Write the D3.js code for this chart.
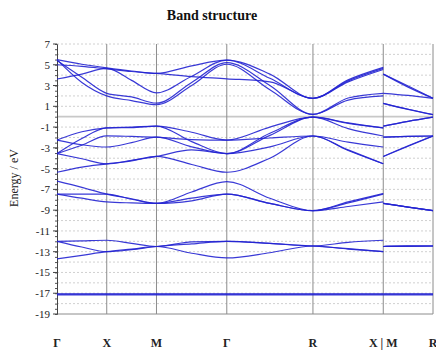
<!DOCTYPE html>
<html>
<head>
<meta charset="utf-8">
<script src="https://cdn.jsdelivr.net/npm/d3@7"></script>
<style>
  body { margin: 0; background: #fff; }
  svg { display: block; font-family: 'Liberation Serif', 'Times New Roman', serif; }
</style>
</head>
<body>
<div id="chart"></div>
<script>
// high symmetry points along the path
const kLabels = ['Γ', 'X', 'M', 'Γ', 'R', 'X | M', 'R'];
const kTicks = [0, 0.5, 1.0, 1.707, 2.573, 3.280, 3.780];

// sample positions: Γ-X-M-Γ-R-X, then M-R after the break
const kPath1 = [0, 0.25, 0.5, 0.75, 1.0, 1.354, 1.707, 2.140, 2.573, 2.927, 3.280];
const kPath2 = [3.280, 3.530, 3.780];

const yTicks = [7, 5, 3, 1, -1, -3, -5, -7, -9, -11, -13, -15, -17, -19];

// energies (eV) at [Γ, m, X, m, M, m, Γ, m, R, m, X | M, m, R]
const coreBands = [
  [-17.05, -17.05, -17.05, -17.05, -17.05, -17.05, -17.05, -17.05, -17.05, -17.05, -17.05, -17.05, -17.05, -17.05],
  [-17.1, -17.1, -17.1, -17.1, -17.1, -17.1, -17.1, -17.1, -17.1, -17.1, -17.1, -17.1, -17.1, -17.1],
  [-17.15, -17.15, -17.15, -17.15, -17.15, -17.15, -17.15, -17.15, -17.15, -17.15, -17.15, -17.15, -17.15, -17.15]
];

const semicoreBands = [
  [-12.0, -11.95, -11.9, -12.2, -12.5, -12.05, -12.0, -12.2, -12.45, -12.1, -11.9, -12.5, -12.47, -12.45],
  [-12.0, -12.55, -13.0, -12.8, -12.5, -12.25, -12.0, -12.2, -12.45, -12.7, -13.0, -12.5, -12.47, -12.45],
  [-13.7, -13.35, -13.0, -12.75, -12.5, -13.15, -13.6, -13.1, -12.45, -12.75, -13.0, -12.5, -12.47, -12.45]
];

const lowerBands = [
  [-6.2, -6.8, -7.45, -7.9, -8.35, -7.25, -6.25, -7.85, -9.05, -8.2, -7.4, -8.35, -8.7, -9.05],
  [-7.45, -7.45, -7.45, -7.95, -8.35, -7.85, -7.45, -8.35, -9.05, -8.3, -7.45, -8.35, -8.7, -9.05],
  [-7.45, -7.85, -8.2, -8.3, -8.35, -8.1, -7.45, -8.35, -9.05, -8.65, -8.2, -8.35, -8.7, -9.05]
];

const valenceBands = [
  [-2.25, -1.45, -1.08, -1.0, -0.9, -1.5, -2.25, -1.0, -0.05, -0.6, -1.08, -0.9, -0.45, -0.05],
  [-2.25, -2.7, -2.92, -2.5, -1.97, -2.9, -3.55, -1.8, -0.05, -1.15, -1.86, -1.97, -1.9, -1.86],
  [-3.55, -2.1, -1.08, -1.05, -0.9, -2.4, -3.55, -1.6, -0.05, -0.65, -1.08, -0.9, -0.45, -0.05],
  [-3.55, -2.75, -1.85, -1.9, -1.97, -2.2, -2.25, -2.05, -1.86, -2.45, -2.92, -1.97, -1.9, -1.86],
  [-3.55, -4.05, -4.55, -4.2, -3.83, -3.2, -3.55, -2.9, -1.86, -3.25, -4.53, -3.83, -2.8, -1.86],
  [-5.35, -4.85, -4.55, -4.25, -3.83, -4.6, -5.35, -4.0, -1.86, -3.2, -4.53, -3.83, -2.85, -1.86]
];

const conductionBands = [
  [5.50, 5.05, 4.70, 4.40, 4.17, 4.90, 5.45, 4.10, 1.77, 3.55, 4.75, 4.10, 2.95, 1.77],
  [3.63, 4.10, 4.65, 3.50, 2.30, 3.90, 5.45, 3.70, 1.77, 3.35, 4.55, 2.25, 2.05, 1.77],
  [5.50, 3.30, 2.00, 1.55, 1.15, 3.00, 5.05, 2.60, 0.22, 1.60, 2.00, 1.29, 0.70, 0.20],
  [5.40, 3.80, 2.25, 1.90, 1.30, 3.30, 5.20, 3.00, 0.22, 1.80, 2.25, 1.29, 0.72, 0.20],
  [5.00, 4.85, 4.60, 4.35, 4.17, 3.85, 3.65, 3.35, 1.77, 3.45, 4.65, 4.10, 2.85, 1.77]
];

const width = 436;
const height = 350;
const plot = { left: 57, right: 433, top: 44, bottom: 314 };

const svg = d3.select('#chart')
  .append('svg')
  .attr('width', width)
  .attr('height', height);

const x = d3.scaleLinear()
  .domain([0, 3.780])
  .range([plot.left, plot.right]);

const y = d3.scaleLinear()
  .domain([-19, 7])
  .range([plot.bottom, plot.top]);

// dashed grid every 1 eV, solid at the Fermi level
svg.append('g')
  .selectAll('line')
  .data(d3.range(-18, 8))
  .enter()
  .append('line')
  .attr('x1', plot.left)
  .attr('x2', plot.right)
  .attr('y1', d => y(d))
  .attr('y2', d => y(d))
  .attr('stroke', d => d === 0 ? '#c8c8c8' : '#c4c4c4')
  .attr('stroke-width', d => d === 0 ? 1.8 : 0.8)
  .attr('stroke-dasharray', d => d === 0 ? null : '2,2');

// vertical lines at symmetry points
svg.append('g')
  .selectAll('line')
  .data(kTicks.slice(1))
  .enter()
  .append('line')
  .attr('x1', d => x(d))
  .attr('x2', d => x(d))
  .attr('y1', plot.top)
  .attr('y2', plot.bottom)
  .attr('stroke', '#8c8c8c')
  .attr('stroke-width', 1);

svg.append('line')
  .attr('x1', plot.left)
  .attr('x2', plot.right)
  .attr('y1', plot.bottom)
  .attr('y2', plot.bottom)
  .attr('stroke', '#8c8c8c');

// y axis with minor ticks
const yAxis = svg.append('g')
  .attr('transform', 'translate(' + plot.left + ',0)')
  .call(d3.axisLeft(y).tickValues(d3.range(-19, 7.01, 0.5)).tickSize(2).tickFormat(''));
yAxis.call(g => g.selectAll('.tick line').attr('stroke', '#555'));
yAxis.call(g => g.select('.domain').attr('stroke', '#444'));

svg.append('g')
  .selectAll('line')
  .data(yTicks)
  .enter()
  .append('line')
  .attr('x1', plot.left - 4)
  .attr('x2', plot.left)
  .attr('y1', d => y(d))
  .attr('y2', d => y(d))
  .attr('stroke', '#444');

svg.append('g')
  .selectAll('text')
  .data(yTicks)
  .enter()
  .append('text')
  .attr('x', plot.left - 7)
  .attr('y', d => y(d) + 4)
  .attr('text-anchor', 'end')
  .attr('font-size', 11)
  .attr('fill', '#222')
  .text(d => String(d));

// bands
const line = d3.line()
  .x(d => x(d[0]))
  .y(d => y(d[1]))
  .curve(d3.curveMonotoneX);

const allBands = [].concat(coreBands, semicoreBands, lowerBands, valenceBands, conductionBands);
const bandGroup = svg.append('g');

allBands.forEach(b => {
  const part1 = kPath1.map((k, i) => [k, b[i]]);
  const part2 = kPath2.map((k, i) => [k, b[kPath1.length + i]]);
  [part1, part2].forEach(p => {
    bandGroup.append('path')
      .attr('d', line(p))
      .attr('fill', 'none')
      .attr('stroke', '#2424d2')
      .attr('stroke-width', 1.2)
      .attr('stroke-opacity', 0.9);
  });
});

// k labels
svg.append('g')
  .selectAll('text')
  .data(kTicks)
  .enter()
  .append('text')
  .attr('x', d => x(d))
  .attr('y', 347)
  .attr('text-anchor', 'middle')
  .attr('font-size', 12)
  .attr('font-weight', 'bold')
  .attr('fill', '#222')
  .text((d, i) => kLabels[i]);

svg.append('text')
  .attr('transform', 'translate(18,178) rotate(-90)')
  .attr('text-anchor', 'middle')
  .attr('font-size', 12)
  .attr('fill', '#222')
  .text('Energy / eV');

svg.append('text')
  .attr('x', 212)
  .attr('y', 20)
  .attr('text-anchor', 'middle')
  .attr('font-size', 14)
  .attr('font-weight', 'bold')
  .attr('fill', '#111')
  .text('Band structure');
</script>
</body>
</html>
